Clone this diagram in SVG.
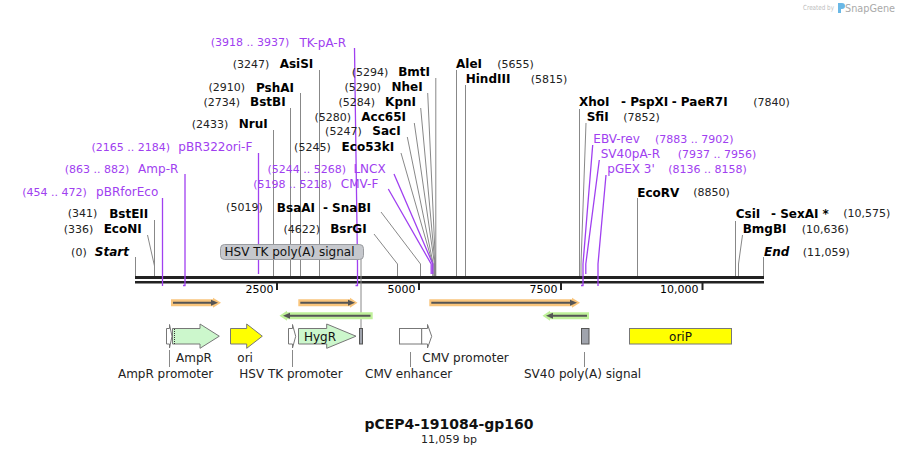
<svg xmlns="http://www.w3.org/2000/svg" width="899" height="455" viewBox="0 0 899 455">
<style>
text{font-family:"DejaVu Sans",Verdana,sans-serif}
.num{font-size:11px;fill:#222}
.enz{font-size:12px;font-weight:bold;fill:#000}
.bi{font-size:12px;font-weight:bold;font-style:italic;fill:#000}
.pnum{font-size:11px;fill:#a040f0}
.pname{font-size:12px;fill:#a040f0}
.lead{stroke:#888;stroke-width:1;fill:none}
.plead{stroke:#a040f0;stroke-width:1.3;fill:none}
.flab{font-size:12px;fill:#222}
.tick{font-size:11px;fill:#000}
.feat{stroke:#777;stroke-width:1}
.orf-o{stroke:#f9c57c;stroke-width:7;fill:none}
.orf-g{stroke:#bff09a;stroke-width:7;fill:none}
.core{stroke:#555;stroke-width:2;fill:none}
</style>

<!-- watermark -->
<g id="watermark">
<text x="803" y="10" textLength="31" lengthAdjust="spacingAndGlyphs" style="font-size:7px;fill:#bdbdbd">Created by</text>
<path d="M838,3 h4 a3,3 0 0 1 0,6 h-1 v4 h-3 z" fill="#6ab8e6"/>
<text x="845" y="11.5" textLength="50" lengthAdjust="spacingAndGlyphs" style="font-size:10px;fill:#a9a9a9">SnapGene</text>
</g>

<!-- backbone -->
<g id="backbone">
<rect x="135" y="276" width="629" height="3" fill="#222"/>
<rect x="135" y="281" width="629" height="2.5" fill="#222"/>
<rect x="276" y="283" width="2" height="7" fill="#222"/>
<rect x="418" y="283" width="2" height="7" fill="#222"/>
<rect x="560" y="283" width="2" height="7" fill="#222"/>
<rect x="701.5" y="283" width="2" height="7" fill="#222"/>
<text class="tick" x="273.5" y="293" text-anchor="end">2500</text>
<text class="tick" x="415.5" y="293" text-anchor="end">5000</text>
<text class="tick" x="557.5" y="293" text-anchor="end">7500</text>
<text class="tick" x="698.5" y="293" text-anchor="end">10,000</text>
</g>

<!-- connectors -->
<g id="connectors">
<path class="lead" d="M135.5,257 V276"/>
<path class="lead" d="M147.5,235 L154.5,266 V276"/>
<path class="lead" d="M154.5,220 V276"/>
<path class="lead" d="M273.5,130 V276"/>
<path class="lead" d="M290.5,108 V276"/>
<path class="lead" d="M300.5,93 V276"/>
<path class="lead" d="M319.5,70 V276"/>
<path class="lead" d="M374,234 L397.5,264 V276"/>
<path class="lead" d="M381,212 L420.5,264 V276"/>
<path class="lead" d="M401,153 L432.8,264 V276"/>
<path class="lead" d="M407.3,137 L433.2,264 V276"/>
<path class="lead" d="M414.3,123 L434.5,264 V276"/>
<path class="lead" d="M420.7,108 L435,264 V276"/>
<path class="lead" d="M427.7,93 L435.5,264 V276"/>
<path class="lead" d="M435.8,78 V276"/>
<path class="lead" d="M456.5,70 V276"/>
<path class="lead" d="M465.5,85 V276"/>
<path class="lead" d="M579.5,109 V276"/>
<path class="lead" d="M586,123 L581,264 V276"/>
<path class="lead" d="M637.5,198 V276"/>
<path class="lead" d="M735.5,221 V276"/>
<path class="lead" d="M742.5,235 L738.5,264 V276"/>
<path class="lead" d="M763.5,257 V276"/>
<!-- HSV TK poly(A) signal label line -->
<path class="lead" d="M361,259 V328"/>
<!-- primer lines -->
<path class="plead" d="M354.5,48 L357.5,264 V286 M355.5,285.5 H358"/>
<path class="plead" d="M258.5,153 V274"/>
<path class="plead" d="M185,174 V286 M183,285.5 H185.5"/>
<path class="plead" d="M162.5,198 V286"/>
<path class="plead" d="M394,174 L432.8,264 V274"/>
<path class="plead" d="M388.3,189 L431.2,264 V274"/>
<path class="plead" d="M592.7,145 L583,264 V286 M581,285.5 H583.5"/>
<path class="plead" d="M599.3,160 L585.8,264 V274"/>
<path class="plead" d="M606,175 L598,264 V286"/>
<!-- feature label lines -->
<path class="lead" d="M169.5,350 V367"/>
<path class="lead" d="M292.5,350 V367"/>
<path class="lead" d="M410.5,352 V367"/>
<path class="lead" d="M584.5,352 V367"/>
</g>

<!-- left-side enzyme / primer labels -->
<g id="TK-pA-R"><text class="pnum" x="289.3" y="46.3" text-anchor="end">(3918 .. 3937)</text><text class="pname" x="346" y="46.6" text-anchor="end">TK-pA-R</text></g>
<g id="AsiSI"><text class="num" x="269.3" y="68" text-anchor="end">(3247)</text><text class="enz" x="313.3" y="68.4" text-anchor="end">AsiSI</text></g>
<g id="PshAI"><text class="num" x="245" y="91.3" text-anchor="end">(2910)</text><text class="enz" x="294" y="91.7" text-anchor="end">PshAI</text></g>
<g id="BstBI"><text class="num" x="240" y="105.7" text-anchor="end">(2734)</text><text class="enz" x="285.7" y="106.1" text-anchor="end">BstBI</text></g>
<g id="NruI"><text class="num" x="228.3" y="128" text-anchor="end">(2433)</text><text class="enz" x="267.7" y="128.4" text-anchor="end">NruI</text></g>
<g id="pBR322ori-F"><text class="pnum" x="170" y="150.7" text-anchor="end">(2165 .. 2184)</text><text class="pname" x="252.3" y="151" text-anchor="end">pBR322ori-F</text></g>
<g id="Amp-R"><text class="pnum" x="129.3" y="173" text-anchor="end">(863 .. 882)</text><text class="pname" x="178.3" y="173.3" text-anchor="end">Amp-R</text></g>
<g id="pBRforEco"><text class="pnum" x="86.7" y="195.7" text-anchor="end">(454 .. 472)</text><text class="pname" x="158.3" y="196" text-anchor="end">pBRforEco</text></g>
<g id="BstEII"><text class="num" x="97.3" y="217.3" text-anchor="end">(341)</text><text class="enz" x="148.3" y="217.7" text-anchor="end">BstEII</text></g>
<g id="EcoNI"><text class="num" x="93.3" y="233" text-anchor="end">(336)</text><text class="enz" x="141.7" y="233.4" text-anchor="end">EcoNI</text></g>
<g id="Start"><text class="num" x="86.7" y="255.7" text-anchor="end">(0)</text><text class="bi" x="129" y="256.1" text-anchor="end">Start</text></g>
<g id="BmtI"><text class="num" x="388.3" y="75.7" text-anchor="end">(5294)</text><text class="enz" x="430" y="76.1" text-anchor="end">BmtI</text></g>
<g id="NheI"><text class="num" x="381" y="90.7" text-anchor="end">(5290)</text><text class="enz" x="422.7" y="91.1" text-anchor="end">NheI</text></g>
<g id="KpnI"><text class="num" x="375" y="105.7" text-anchor="end">(5284)</text><text class="enz" x="416" y="106.1" text-anchor="end">KpnI</text></g>
<g id="Acc65I"><text class="num" x="351" y="120.7" text-anchor="end">(5280)</text><text class="enz" x="406" y="121.1" text-anchor="end">Acc65I</text></g>
<g id="SacI"><text class="num" x="361.7" y="135" text-anchor="end">(5247)</text><text class="enz" x="400.7" y="135.4" text-anchor="end">SacI</text></g>
<g id="Eco53kI"><text class="num" x="330.7" y="150.7" text-anchor="end">(5245)</text><text class="enz" x="394.3" y="151.1" text-anchor="end">Eco53kI</text></g>
<g id="LNCX"><text class="pnum" x="346" y="173" text-anchor="end">(5244 .. 5268)</text><text class="pname" x="385.7" y="173.3" text-anchor="end">LNCX</text></g>
<g id="CMV-F"><text class="pnum" x="331.7" y="188" text-anchor="end">(5198 .. 5218)</text><text class="pname" x="378.3" y="188.3" text-anchor="end">CMV-F</text></g>
<g id="BsaAI-SnaBI"><text class="num" x="262.7" y="211.3" text-anchor="end">(5019)</text><text class="enz" x="315" y="211.7" text-anchor="end">BsaAI</text><text class="enz" x="371" y="211.7" text-anchor="end">- SnaBI</text></g>
<g id="BsrGI"><text class="num" x="320" y="233" text-anchor="end">(4622)</text><text class="enz" x="366.7" y="233.4" text-anchor="end">BsrGI</text></g>

<!-- right-side labels -->
<g id="AleI"><text class="enz" x="456" y="68.4">AleI</text><text class="num" x="497.3" y="68">(5655)</text></g>
<g id="HindIII"><text class="enz" x="465.7" y="83.4">HindIII</text><text class="num" x="530.7" y="83">(5815)</text></g>
<g id="XhoI-PspXI-PaeR7I"><text class="enz" x="579" y="106.1">XhoI</text><text class="enz" x="621" y="106.1">- PspXI</text><text class="enz" x="671.7" y="106.1">- PaeR7I</text><text class="num" x="753.3" y="105.7">(7840)</text></g>
<g id="SfiI"><text class="enz" x="586.7" y="121.1">SfiI</text><text class="num" x="623.3" y="120.7">(7852)</text></g>
<g id="EBV-rev"><text class="pname" x="593.3" y="143.3">EBV-rev</text><text class="pnum" x="655" y="143">(7883 .. 7902)</text></g>
<g id="SV40pA-R"><text class="pname" x="600.7" y="158.3">SV40pA-R</text><text class="pnum" x="677.7" y="158">(7937 .. 7956)</text></g>
<g id="pGEX3"><text class="pname" x="607.3" y="173.3">pGEX 3'</text><text class="pnum" x="668.3" y="173">(8136 .. 8158)</text></g>
<g id="EcoRV"><text class="enz" x="637.3" y="196.7">EcoRV</text><text class="num" x="693.3" y="196.3">(8850)</text></g>
<g id="CsiI-SexAI"><text class="enz" x="735.7" y="217.7">CsiI</text><text class="enz" x="771" y="217.7">- SexAI *</text><text class="num" x="843.3" y="217.3">(10,575)</text></g>
<g id="BmgBI"><text class="enz" x="742.7" y="233.4">BmgBI</text><text class="num" x="801.7" y="233">(10,636)</text></g>
<g id="End"><text class="bi" x="764" y="256.1">End</text><text class="num" x="802.7" y="255.7">(11,059)</text></g>

<!-- HSV TK poly(A) signal label -->
<g id="HSV-TK-polyA-label">
<rect x="220.5" y="244.5" width="143" height="15" rx="4" fill="#c6c8cd" stroke="#9a9ca0"/>
<text class="flab" x="289.5" y="256.2" text-anchor="middle" style="fill:#111">HSV TK poly(A) signal</text>
</g>

<!-- ORF arrows -->
<g id="orf1">
<path class="orf-o" d="M171,302.7 H214"/><path d="M213,297.7 L221,302.7 L213,307.7 Z" fill="#f9c57c"/>
<path class="core" d="M173,302.7 H212"/><path d="M211,299.7 L218,302.7 L211,305.7 Z" fill="#555"/>
</g>
<g id="orf2">
<path class="orf-o" d="M298.3,302.7 H351"/><path d="M350,297.7 L357.5,302.7 L350,307.7 Z" fill="#f9c57c"/>
<path class="core" d="M300.3,302.7 H349"/><path d="M348,299.7 L355,302.7 L348,305.7 Z" fill="#555"/>
</g>
<g id="orf3">
<path class="orf-o" d="M429.3,302.7 H573"/><path d="M572,297.7 L580,302.7 L572,307.7 Z" fill="#f9c57c"/>
<path class="core" d="M431.3,302.7 H571"/><path d="M570,299.7 L577,302.7 L570,305.7 Z" fill="#555"/>
</g>
<g id="orf4">
<path class="orf-g" d="M286,315.7 H372.7"/><path d="M287,310.7 L279.5,315.7 L287,320.7 Z" fill="#bff09a"/>
<path class="core" d="M289,315.7 H370.5"/><path d="M290,312.7 L283,315.7 L290,318.7 Z" fill="#555"/>
</g>
<g id="orf5">
<path class="orf-g" d="M549,315.7 H589"/><path d="M550,310.7 L542.5,315.7 L550,320.7 Z" fill="#bff09a"/>
<path class="core" d="M552,315.7 H587"/><path d="M553,312.7 L546,315.7 L553,318.7 Z" fill="#555"/>
</g>

<!-- features -->
<g id="AmpR-promoter">
<path class="feat" d="M166.5,328.5 H169.5 V324.5 L172,336.3 L169.5,348 V344 H166.5 Z" fill="#fff"/>
<text class="flab" x="213.3" y="377.5" text-anchor="end">AmpR promoter</text>
</g>
<g id="AmpR">
<path class="feat" d="M172.5,328.5 H200 V324 L219.3,336.2 L200,348.3 V344 H172.5 Z" fill="#ccf7cc"/>
<path d="M174.5,329 V344" stroke="#333" stroke-width="1" stroke-dasharray="1,1"/>
<text class="flab" x="176" y="361.5">AmpR</text>
</g>
<g id="ori">
<path class="feat" d="M230.5,328.5 H246.7 V324 L262.3,336.2 L246.7,348.3 V344 H230.5 Z" fill="#ffff00"/>
<text class="flab" x="237.3" y="361.5">ori</text>
</g>
<g id="HSV-TK-promoter">
<path class="feat" d="M288.5,328.5 H292.5 V324.5 L295.7,336.3 L292.5,348 V344 H288.5 Z" fill="#fff"/>
<text class="flab" x="239.3" y="377.5">HSV TK promoter</text>
</g>
<g id="HygR">
<path class="feat" d="M298.5,328.5 H326.7 V324 L356,336.2 L326.7,348.3 V344 H298.5 Z" fill="#ccf7cc"/>
<text class="flab" x="320" y="340.5" text-anchor="middle" style="fill:#111">HygR</text>
</g>
<g id="HSV-TK-polyA">
<rect x="359.5" y="328.5" width="3" height="15.5" fill="#a0a4ad" stroke="#555"/>
</g>
<g id="CMV-enhancer">
<rect class="feat" x="399.5" y="328.5" width="22.2" height="15.5" fill="#fff"/>
<text class="flab" x="365" y="377.5">CMV enhancer</text>
</g>
<g id="CMV-promoter">
<path class="feat" d="M421.7,328.5 H427.5 V324.5 L431.7,336.3 L427.5,348 V344 H421.7 Z" fill="#fff"/>
<text class="flab" x="422.3" y="361.5">CMV promoter</text>
</g>
<g id="SV40-polyA">
<rect x="581.5" y="328.5" width="7.5" height="15.5" fill="#a0a4ad" stroke="#555"/>
<text class="flab" x="524" y="377.5">SV40 poly(A) signal</text>
</g>
<g id="oriP">
<rect class="feat" x="629.5" y="328.5" width="102" height="15.5" fill="#ffff00"/>
<text class="flab" x="680.5" y="340.5" text-anchor="middle" style="fill:#111">oriP</text>
</g>

<!-- title -->
<g id="title">
<text x="449" y="429" text-anchor="middle" style="font-size:14px;font-weight:bold;fill:#111">pCEP4-191084-gp160</text>
<text x="449" y="443.3" text-anchor="middle" style="font-size:11px;fill:#222">11,059 bp</text>
</g>
</svg>
